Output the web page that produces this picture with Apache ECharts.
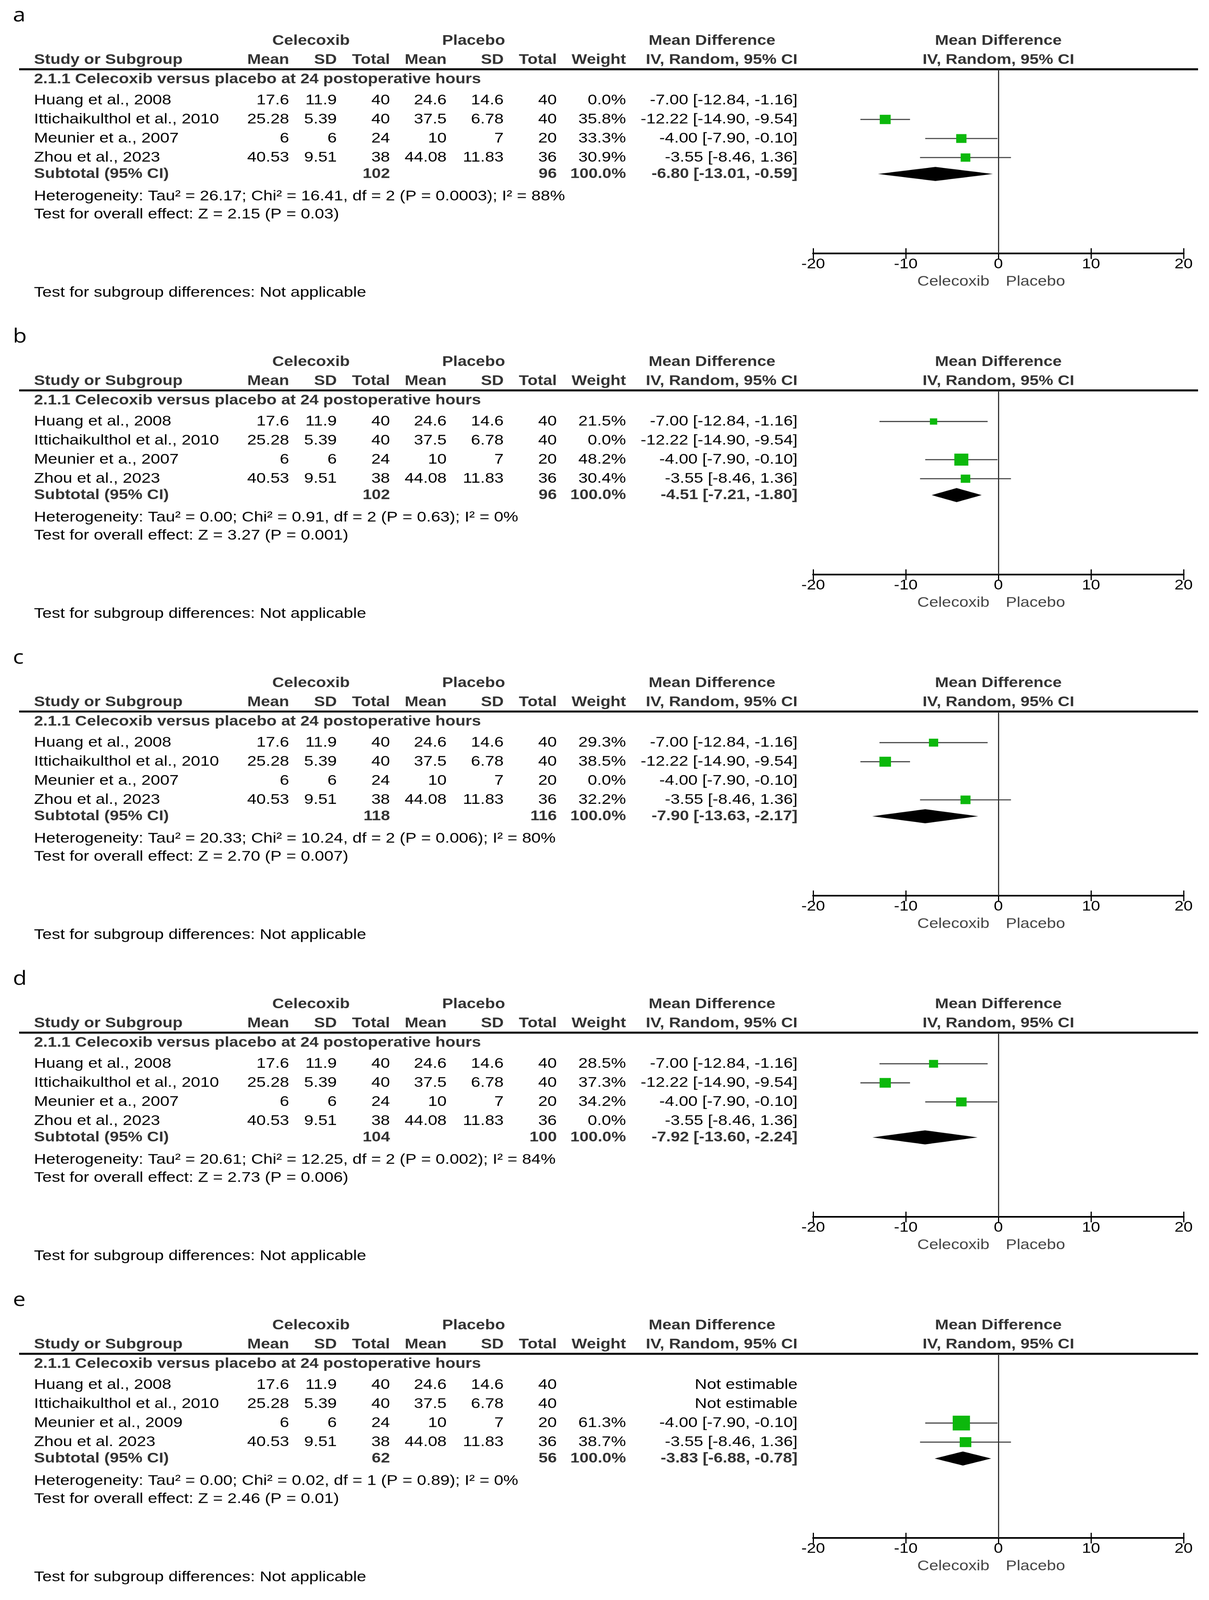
<!DOCTYPE html>
<html><head><meta charset="utf-8">
<script src="https://cdn.jsdelivr.net/npm/echarts@6/dist/echarts.min.js"></script>
<style>html,body{margin:0;padding:0;background:#fff;overflow:hidden}
#wrap{width:3094px;overflow:hidden;background:#fff}
#c{width:3094px;height:4783px;transform-origin:0 0}</style>
</head><body><div id="wrap"><div id="c"></div></div>
<script>
// ---------------- DATA ----------------
const panelLabels = ['a', 'b', 'c', 'd', 'e'];
const studyNames = ['Huang et al., 2008', 'Ittichaikulthol et al., 2010', 'Meunier et a., 2007', 'Zhou et al., 2023'];
const studyNamesE = ['Huang et al., 2008', 'Ittichaikulthol et al., 2010', 'Meunier et al., 2009', 'Zhou et al. 2023'];
const celMean = ['17.6', '25.28', '6', '40.53'];
const celSD = ['11.9', '5.39', '6', '9.51'];
const celN = [40, 40, 24, 38];
const plaMean = ['24.6', '37.5', '10', '44.08'];
const plaSD = ['14.6', '6.78', '7', '11.83'];
const plaN = [40, 40, 20, 36];
const mdEst = [-7.00, -12.22, -4.00, -3.55];
const mdLow = [-12.84, -14.90, -7.90, -8.46];
const mdHigh = [-1.16, -9.54, -0.10, 1.36];
const weightsA = [0.0, 35.8, 33.3, 30.9];
const weightsB = [21.5, 0.0, 48.2, 30.4];
const weightsC = [29.3, 38.5, 0.0, 32.2];
const weightsD = [28.5, 37.3, 34.2, 0.0];
const weightsE = [null, null, 61.3, 38.7];
const subtotalCelN = [102, 102, 118, 104, 62];
const subtotalPlaN = [96, 96, 116, 100, 56];
const pooledEst = [-6.80, -4.51, -7.90, -7.92, -3.83];
const pooledLow = [-13.01, -7.21, -13.63, -13.60, -6.88];
const pooledHigh = [-0.59, -1.80, -2.17, -2.24, -0.78];
const heterogeneityText = [
  'Heterogeneity: Tau² = 26.17; Chi² = 16.41, df = 2 (P = 0.0003); I² = 88%',
  'Heterogeneity: Tau² = 0.00; Chi² = 0.91, df = 2 (P = 0.63); I² = 0%',
  'Heterogeneity: Tau² = 20.33; Chi² = 10.24, df = 2 (P = 0.006); I² = 80%',
  'Heterogeneity: Tau² = 20.61; Chi² = 12.25, df = 2 (P = 0.002); I² = 84%',
  'Heterogeneity: Tau² = 0.00; Chi² = 0.02, df = 1 (P = 0.89); I² = 0%'
];
const overallText = [
  'Test for overall effect: Z = 2.15 (P = 0.03)',
  'Test for overall effect: Z = 3.27 (P = 0.001)',
  'Test for overall effect: Z = 2.70 (P = 0.007)',
  'Test for overall effect: Z = 2.73 (P = 0.006)',
  'Test for overall effect: Z = 2.46 (P = 0.01)'
];
const subgroupTitle = '2.1.1 Celecoxib versus placebo at 24 postoperative hours';
const subgroupDiffText = 'Test for subgroup differences: Not applicable';
const xMin = -20, xMax = 20, xInterval = 10;

// ---------------- LAYOUT ----------------
const FULL_H = 4783;
const viewH = window.innerHeight || FULL_H;
const SY = viewH < FULL_H ? viewH / FULL_H : 1;
document.getElementById('wrap').style.height = Math.min(viewH, FULL_H) + 'px';
document.getElementById('c').style.transform = 'scaleY(' + SY + ')';

const FONT = "'Liberation Sans', Arial, sans-serif";
const FS = 43;
const STEP = 960;
const L = { label: 47, head1: 122, head2: 179, rule: 207, subgroup: 237, row0: 300, rowStep: 57,
  subtotal: 520, het: 587, test: 641, axis: 757, axisName: 842, subDiff: 875 };
const CX = { name: 87, celMean: 740, celSD: 862, celN: 998, plaMean: 1143, plaSD: 1289, plaN: 1425,
  weight: 1602, ci: 2041, mdHead: 1660, celHead: 796, plaHead: 1212, ruleL: 49, ruleR: 3066 };
const GRID_LEFT = 2081, GRID_W = 948;
const Y_MIN = (L.rule - L.row0) / L.rowStep;
const Y_MAX = (L.axis - L.row0) / L.rowStep;
const SUB_ROW = (L.subtotal - L.row0) / L.rowStep;

const weightsAll = [weightsA, weightsB, weightsC, weightsD, weightsE];

const fmt2 = v => v.toFixed(2);
const ciText = (e, l, h) => fmt2(e) + ' [' + fmt2(l) + ', ' + fmt2(h) + ']';

const chart = echarts.init(document.getElementById('c'), null, { renderer: 'canvas', width: 3094, height: FULL_H });

const grids = [], xAxes = [], yAxes = [], series = [];
panelLabels.forEach((lab, p) => {
  grids.push({ left: GRID_LEFT, width: GRID_W, top: L.rule + p * STEP, height: L.axis - L.rule });
  xAxes.push({
    gridIndex: p, type: 'value', min: xMin, max: xMax, interval: xInterval, position: 'bottom',
    axisLine: { show: true, onZero: false, lineStyle: { color: '#000', width: 5 } },
    axisTick: { show: true, inside: false, length: 17, lineStyle: { color: '#000', width: 3 } },
    axisLabel: { show: true, margin: 12, fontSize: 42, fontFamily: FONT, color: '#000' },
    splitLine: { show: false }
  });
  xAxes.push({
    gridIndex: p, type: 'value', min: xMin, max: xMax, interval: xInterval, position: 'bottom',
    axisLine: { show: false, onZero: false },
    axisTick: { show: true, inside: true, length: 15, lineStyle: { color: '#000', width: 3 } },
    axisLabel: { show: false }, splitLine: { show: false }
  });
  yAxes.push({ gridIndex: p, type: 'value', min: Y_MIN, max: Y_MAX, inverse: true, show: false });

  const w = weightsAll[p];
  const studyData = mdEst.map((e, i) => [e, mdLow[i], mdHigh[i], i, w[i] == null ? 0 : w[i]]);
  series.push({
    type: 'custom', xAxisIndex: 2 * p, yAxisIndex: p, silent: true, animation: false,
    data: studyData,
    renderItem: function (params, api) {
      const wt = api.value(4);
      if (!(wt > 0)) return null;
      const row = api.value(3);
      const a = api.coord([api.value(1), row]);
      const b = api.coord([api.value(2), row]);
      const c = api.coord([api.value(0), row]);
      const s = 5 + 0.64 * wt;
      return { type: 'group', children: [
        { type: 'line', shape: { x1: a[0], y1: a[1], x2: b[0], y2: b[1] }, style: { stroke: '#333', lineWidth: 3 } },
        { type: 'rect', shape: { x: c[0] - s / 2, y: c[1] - s / 2, width: s, height: s }, style: { fill: '#0cb80c' } }
      ] };
    }
  });
  series.push({
    type: 'custom', xAxisIndex: 2 * p, yAxisIndex: p, silent: true, animation: false,
    data: [[pooledEst[p], pooledLow[p], pooledHigh[p], SUB_ROW]],
    renderItem: function (params, api) {
      const row = api.value(3);
      const l = api.coord([api.value(1), row]);
      const r = api.coord([api.value(2), row]);
      const c = api.coord([api.value(0), row]);
      const hh = 21;
      return { type: 'polygon', shape: { points: [[l[0], l[1]], [c[0], c[1] - hh], [r[0], r[1]], [c[0], c[1] + hh]] },
        style: { fill: '#000' } };
    },
    markLine: { silent: true, symbol: 'none', animation: false, label: { show: false },
      lineStyle: { color: '#333', width: 3, type: 'solid' }, data: [{ xAxis: 0 }] }
  });
});

chart.setOption({ animation: false, backgroundColor: '#fff', grid: grids, xAxis: xAxes, yAxis: yAxes, series: series });

// ---------------- TEXT ----------------
const g = [];
function txt(text, x, y, align, opts) {
  opts = opts || {};
  g.push({ type: 'text', x: x, y: y, silent: true, style: {
    text: String(text), align: align, verticalAlign: 'middle',
    fontSize: opts.fs || FS, fontFamily: opts.ff || FONT, fontWeight: opts.bold ? 'bold' : 'normal',
    fill: opts.color || '#000' } });
}
panelLabels.forEach((lab, p) => {
  const o = p * STEP;
  const bold = { bold: true, color: '#333', fs: 42 };
  txt(lab, 33, L.label + o, 'left', { fs: 58, ff: "'Open Sans', 'Liberation Sans', sans-serif" });
  txt('Celecoxib', CX.celHead, L.head1 + o, 'center', bold);
  txt('Placebo', CX.plaHead, L.head1 + o, 'center', bold);
  txt('Mean Difference', CX.mdHead, L.head1 + o, 'left', bold);
  txt('Study or Subgroup', CX.name, L.head2 + o, 'left', bold);
  txt('Mean', CX.celMean, L.head2 + o, 'right', bold);
  txt('SD', CX.celSD, L.head2 + o, 'right', bold);
  txt('Total', CX.celN, L.head2 + o, 'right', bold);
  txt('Mean', CX.plaMean, L.head2 + o, 'right', bold);
  txt('SD', CX.plaSD, L.head2 + o, 'right', bold);
  txt('Total', CX.plaN, L.head2 + o, 'right', bold);
  txt('Weight', CX.weight, L.head2 + o, 'right', bold);
  txt('IV, Random, 95% CI', CX.ci, L.head2 + o, 'right', bold);
  g.push({ type: 'line', silent: true, shape: { x1: CX.ruleL, y1: L.rule + o, x2: CX.ruleR, y2: L.rule + o },
    style: { stroke: '#000', lineWidth: 6 } });
  txt(subgroupTitle, CX.name, L.subgroup + o, 'left', bold);
  const names = p === 4 ? studyNamesE : studyNames;
  const w = weightsAll[p];
  names.forEach((nm, i) => {
    const y = L.row0 + i * L.rowStep + o;
    txt(nm, CX.name, y, 'left');
    txt(celMean[i], CX.celMean, y, 'right');
    txt(celSD[i], CX.celSD, y, 'right');
    txt(celN[i], CX.celN, y, 'right');
    txt(plaMean[i], CX.plaMean, y, 'right');
    txt(plaSD[i], CX.plaSD, y, 'right');
    txt(plaN[i], CX.plaN, y, 'right');
    if (w[i] == null) {
      txt('Not estimable', CX.ci, y, 'right');
    } else {
      txt(w[i].toFixed(1) + '%', CX.weight, y, 'right');
      txt(ciText(mdEst[i], mdLow[i], mdHigh[i]), CX.ci, y, 'right');
    }
  });
  const ys = L.subtotal + o;
  txt('Subtotal (95% CI)', CX.name, ys, 'left', bold);
  txt(subtotalCelN[p], CX.celN, ys, 'right', bold);
  txt(subtotalPlaN[p], CX.plaN, ys, 'right', bold);
  txt('100.0%', CX.weight, ys, 'right', bold);
  txt(ciText(pooledEst[p], pooledLow[p], pooledHigh[p]), CX.ci, ys, 'right', bold);
  txt(heterogeneityText[p], CX.name, L.het + o, 'left');
  txt(overallText[p], CX.name, L.test + o, 'left');
  txt(subgroupDiffText, CX.name, L.subDiff + o, 'left');

  const zx = chart.convertToPixel({ xAxisIndex: 2 * p }, 0);
  txt('Mean Difference', zx, L.head1 + o, 'center', bold);
  txt('IV, Random, 95% CI', zx, L.head2 + o, 'center', bold);
  txt('Celecoxib', zx - 23, L.axisName + o, 'right', { color: '#444', fs: 42 });
  txt('Placebo', zx + 19, L.axisName + o, 'left', { color: '#444', fs: 42 });
});
chart.setOption({ graphic: g });
</script></body></html>
